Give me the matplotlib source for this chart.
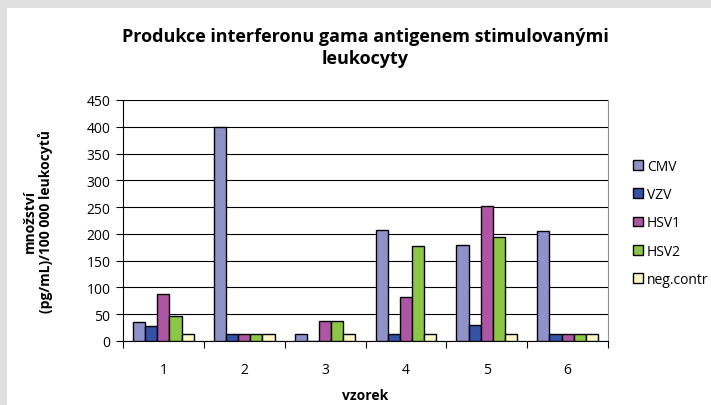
import numpy as np
import matplotlib.pyplot as plt
from matplotlib.patches import Rectangle

plt.rcParams['font.family'] = ['Open Sans', 'DejaVu Sans']

samples = ['1', '2', '3', '4', '5', '6']
series = ['CMV', 'VZV', 'HSV1', 'HSV2', 'neg.contr']
cmv = [35, 400, 13, 207, 180, 205]
vzv = [28, 13, 0, 13, 30, 13]
hsv1 = [88, 13, 37, 83, 253, 13]
hsv2 = [47, 13, 37, 178, 195, 13]
neg = [13, 13, 13, 13, 13, 13]
colors = ['#8f92c9', '#3553a6', '#ad56a3', '#8cc646', '#fbf8c6']

fig = plt.figure(figsize=(7.11, 4.06), dpi=100, facecolor='#e0e0e0')
fig.patches.append(Rectangle((7/711, 0), 1, 397/406, transform=fig.transFigure,
                             facecolor='white', edgecolor='none', zorder=-10))

ax = fig.add_axes([123/711, 64/406, 485/711, 241/406])
ax.set_facecolor('none')

x = np.arange(len(samples))
w = 0.15
for i, vals in enumerate([cmv, vzv, hsv1, hsv2, neg]):
    ax.bar(x + (i - 2) * w, vals, w, color=colors[i], edgecolor='black',
           linewidth=1, label=series[i], zorder=3)

ax.set_xlim(-0.5, 5.5)
ax.set_ylim(0, 450)
ax.set_yticks(range(0, 451, 50))
ax.set_xticks(x)
ax.set_xticklabels(samples)
ax.set_xticks(np.arange(-0.5, 6, 1), minor=True)
ax.tick_params(axis='x', which='major', length=0, pad=15, labelsize=10)
ax.tick_params(axis='x', which='minor', length=5, width=0.8, direction='out')
ax.tick_params(axis='y', length=5, width=0.8, labelsize=10, pad=4)
ax.yaxis.grid(True, color='black', linewidth=0.8, zorder=0)
ax.set_axisbelow(True)
ax.spines['top'].set_visible(False)
ax.spines['right'].set_color('#909090')
ax.spines['left'].set_color('black')
ax.spines['bottom'].set_color('black')
ax.spines['left'].set_linewidth(0.8)
ax.spines['bottom'].set_linewidth(0.8)

ax.set_xlabel('vzorek', fontweight='bold', fontsize=10, labelpad=8)
ax.set_ylabel('množství\n(pg/mL)/100 000 leukocytů', fontweight='bold',
              fontsize=10, labelpad=24, linespacing=1.1)

fig.text(365.5/711, 1 - 48/406,
         'Produkce interferonu gama antigenem stimulovanými\nleukocyty',
         ha='center', va='center', fontsize=13, fontweight='bold',
         linespacing=1.3)

leg = ax.legend(loc='center left', bbox_to_anchor=(1.04, 0.49), frameon=False,
                fontsize=10, handlelength=0.7, handleheight=0.7,
                handletextpad=0.3, labelspacing=0.95, borderaxespad=0)

fig.savefig('out.png', dpi=100, facecolor=fig.get_facecolor())
